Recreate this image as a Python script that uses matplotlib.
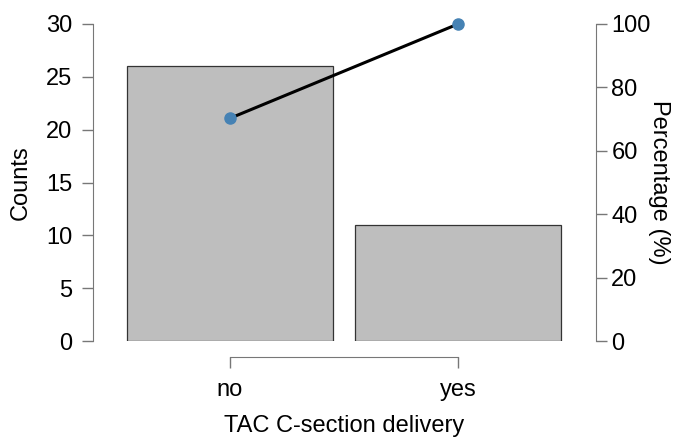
import matplotlib
matplotlib.use("Agg")
import matplotlib.pyplot as plt
import numpy as np

categories = ["no", "yes"]
counts = [26, 11]
cum_pct = list(np.cumsum(counts) / np.sum(counts) * 100)

plt.rcParams['font.family'] = ['Liberation Sans', 'DejaVu Sans']

W, H = 674, 442
fig = plt.figure(figsize=(W / 100, H / 100), dpi=100)
left, right, bottom, top = 93, 596, 341, 24
ax = fig.add_axes([left / W, 1 - bottom / H, (right - left) / W, (bottom - top) / H])
x = np.arange(len(categories))
ax.bar(x, counts, width=0.904, color="#BEBEBE", edgecolor="#333333", linewidth=0.9, zorder=1)
ax.set_ylim(0, 30)
ax.set_xlim(-0.601, 1.605)

grey = "#777777"
fs = 17
for s in ["top", "right"]:
    ax.spines[s].set_visible(False)
ax.spines["left"].set_bounds(0, 30)
ax.spines["left"].set_color(grey)
ax.spines["bottom"].set_position(("outward", 11.5))
ax.spines["bottom"].set_bounds(0, 1)
ax.spines["bottom"].set_color(grey)
ax.set_yticks([0, 5, 10, 15, 20, 25, 30])
ax.set_xticks(x)
ax.set_xticklabels(categories)
ax.tick_params(axis="y", length=8, width=1, color=grey, labelsize=fs, pad=7)
ax.tick_params(axis="x", length=8, width=1, color=grey, labelsize=fs, pad=8)
ax.set_ylabel("Counts", fontsize=fs, labelpad=10)
ax.set_xlabel("TAC C-section delivery", fontsize=fs, labelpad=10)

ax2 = ax.twinx()
ax2.set_ylim(0, 100)
for s in ["top", "left", "bottom"]:
    ax2.spines[s].set_visible(False)
ax2.spines["right"].set_color(grey)
ax2.spines["right"].set_bounds(0, 100)
ax2.set_yticks([0, 20, 40, 60, 80, 100])
ax2.tick_params(axis="y", length=8, width=1, color=grey, labelsize=fs, pad=3)
ax2.plot(x, cum_pct, color="black", linewidth=2.2, zorder=3)
ax2.plot(x, cum_pct, "o", color="#4682B4", markersize=8, zorder=4, clip_on=False)
ax2.set_ylabel("Percentage (%)", fontsize=fs, rotation=270, labelpad=14)

fig.savefig("out.png", dpi=100)
